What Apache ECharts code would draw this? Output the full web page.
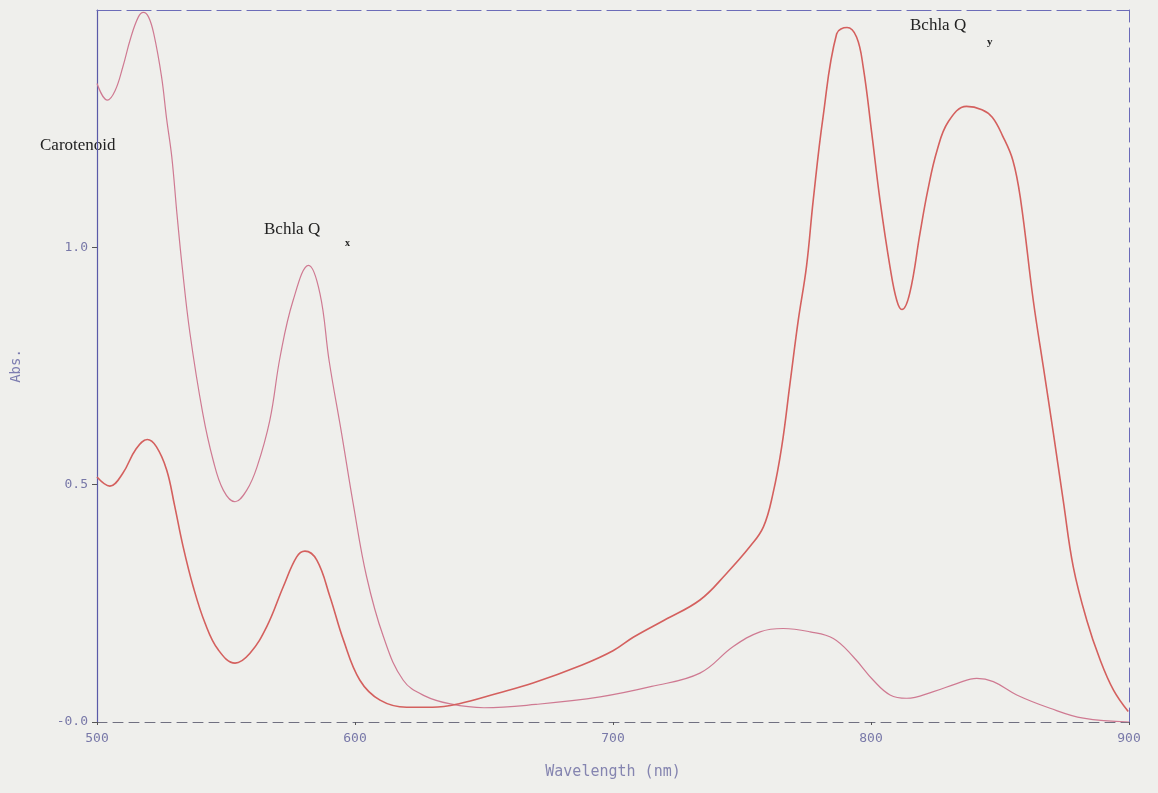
<!DOCTYPE html>
<html>
<head>
<meta charset="utf-8">
<script src="https://cdn.jsdelivr.net/npm/echarts@6/dist/echarts.min.js"></script>
<style>
  html, body { margin: 0; padding: 0; background: #efefec; }
  #spectrum { width: 1158px; height: 793px; }
</style>
</head>
<body>
<div id="spectrum"></div>
<script>
// wavelength (nm) and absorbance
const xTicks = [500, 600, 700, 800, 900];
const yTicks = [0, 0.5, 1.0];

// upper curve on the left (carotenoid rich)
const waveA = [500, 504, 507, 510, 513, 516, 518, 520, 522, 525, 527, 529, 531, 533, 536, 541, 545, 549, 553.5, 558, 562, 567, 571, 576, 582, 586.4, 590, 594.8, 599.3, 604.5, 611, 618.7, 627, 637, 650, 670, 695, 715, 733.7, 746.6, 757, 766, 776.4, 785.4, 793.2, 800.9, 807.4, 813.8, 824.2, 833.2, 841, 847.4, 856.5, 869.4, 882.3, 900];
const absA = [1.345, 1.31, 1.33, 1.38, 1.44, 1.485, 1.495, 1.485, 1.45, 1.36, 1.27, 1.19, 1.07, 0.96, 0.82, 0.65, 0.552, 0.488, 0.464, 0.488, 0.537, 0.636, 0.77, 0.888, 0.962, 0.903, 0.76, 0.608, 0.46, 0.306, 0.18, 0.088, 0.055, 0.038, 0.03, 0.037, 0.053, 0.075, 0.103, 0.159, 0.19, 0.197, 0.19, 0.176, 0.137, 0.088, 0.057, 0.05, 0.064, 0.081, 0.092, 0.085, 0.057, 0.029, 0.008, 0.0];

// lower curve on the left, Bchla Qy peaks on the right
const waveB = [500, 505, 510, 515, 519.5, 523, 527, 530, 533.4, 537.3, 541.9, 547, 553.5, 559.3, 565.8, 572.2, 577.4, 580.6, 585.2, 590.3, 595.5, 601.9, 609.7, 620, 630, 640, 655, 669, 688, 700, 708, 720, 733.7, 744, 753, 758.3, 762, 765.4, 768.6, 771.8, 775, 777.6, 781.4, 786.7, 790.7, 794.4, 797, 800.3, 803.5, 807.4, 810, 812, 815, 819, 822, 825.6, 830, 837, 843, 847, 851, 855, 858, 862.9, 866.8, 870.7, 874.5, 878.4, 883.6, 888.8, 894, 899.7];
const absB = [0.516, 0.497, 0.524, 0.574, 0.595, 0.58, 0.531, 0.458, 0.369, 0.285, 0.208, 0.152, 0.124, 0.145, 0.201, 0.285, 0.348, 0.36, 0.341, 0.264, 0.173, 0.088, 0.046, 0.031, 0.031, 0.038, 0.06, 0.082, 0.12, 0.15, 0.179, 0.215, 0.257, 0.313, 0.369, 0.411, 0.481, 0.58, 0.713, 0.846, 0.96, 1.099, 1.274, 1.45, 1.463, 1.443, 1.379, 1.24, 1.099, 0.958, 0.888, 0.869, 0.903, 1.03, 1.12, 1.204, 1.265, 1.297, 1.29, 1.274, 1.235, 1.183, 1.1, 0.888, 0.748, 0.608, 0.467, 0.327, 0.215, 0.131, 0.067, 0.022];

const zip = (xs, ys) => xs.map((x, i) => [x, ys[i]]);

const chartDom = document.getElementById("spectrum");
const myChart = echarts.init(chartDom);

const monoFont = "'DejaVu Sans Mono', 'Liberation Mono', monospace";
const serifFont = "'Liberation Serif', 'DejaVu Serif', serif";

const option = {
  backgroundColor: "#efefec",
  animation: false,
  grid: {
    left: 97,
    right: 29,
    top: 10,
    bottom: 71,
  },
  xAxis: [
    {
      type: "value",
      min: 500,
      max: 900,
      interval: 100,
      name: "Wavelength (nm)",
      nameLocation: "middle",
      nameGap: 43,
      nameTextStyle: { color: "#8585b0", fontFamily: monoFont, fontSize: 15 },
      axisLine: { show: true, onZero: false, lineStyle: { color: "#707080", type: [10, 6], width: 1 } },
      axisTick: { show: true, length: 3, lineStyle: { color: "#555" } },
      axisLabel: {
        color: "#7878a8",
        fontFamily: monoFont,
        fontSize: 13,
        margin: 10,
        formatter: (v) => (xTicks.includes(v) ? String(v) : ""),
      },
      splitLine: { show: false },
    },
    {
      type: "value",
      position: "top",
      min: 500,
      max: 900,
      axisLine: { show: true, onZero: false, lineStyle: { color: "#6c6cb8", type: [24, 6], width: 1.2 } },
      axisTick: { show: false },
      axisLabel: { show: false },
      splitLine: { show: false },
    },
  ],
  yAxis: [
    {
      type: "value",
      min: 0,
      max: 1.5,
      interval: 0.5,
      name: "Abs.",
      nameLocation: "middle",
      nameGap: 74,
      nameTextStyle: { color: "#7d7db0", fontFamily: monoFont, fontSize: 14 },
      axisLine: { show: true, onZero: false, lineStyle: { color: "#5a5aa8", width: 1.2 } },
      axisTick: { show: true, length: 5, lineStyle: { color: "#555" } },
      axisLabel: {
        color: "#7878a8",
        fontFamily: monoFont,
        fontSize: 13,
        margin: 9,
        showMaxLabel: false,
        formatter: (v) => (v === 0 ? "-0.0" : yTicks.includes(v) ? v.toFixed(1) : ""),
      },
      splitLine: { show: false },
    },
    {
      type: "value",
      position: "right",
      min: 0,
      max: 1.5,
      axisLine: { show: true, onZero: false, lineStyle: { color: "#6a6ab8", type: [14, 6], width: 1 } },
      axisTick: { show: false },
      axisLabel: { show: false },
      splitLine: { show: false },
    },
  ],
  series: [
    {
      name: "A",
      type: "line",
      smooth: 0.4,
      symbol: "none",
      lineStyle: { color: "#cf7a92", width: 1.2 },
      data: zip(waveA, absA),
      z: 3,
    },
    {
      name: "B",
      type: "line",
      smooth: 0.4,
      symbol: "none",
      lineStyle: { color: "#d4605e", width: 1.6 },
      data: zip(waveB, absB),
      z: 4,
    },
  ],
  graphic: [
    {
      type: "text",
      left: 40,
      top: 137,
      style: { text: "Carotenoid", font: "17px " + serifFont, fill: "#222" },
    },
    {
      type: "text",
      left: 264,
      top: 221,
      style: { text: "Bchla Q", font: "17px " + serifFont, fill: "#222" },
    },
    {
      type: "text",
      left: 345,
      top: 238,
      style: { text: "x", font: "bold 10px " + serifFont, fill: "#222" },
    },
    {
      type: "text",
      left: 910,
      top: 17,
      style: { text: "Bchla Q", font: "17px " + serifFont, fill: "#222" },
    },
    {
      type: "text",
      left: 987,
      top: 37,
      style: { text: "y", font: "bold 11px " + serifFont, fill: "#222" },
    },
  ],
};

option && myChart.setOption(option);
</script>
</body>
</html>
